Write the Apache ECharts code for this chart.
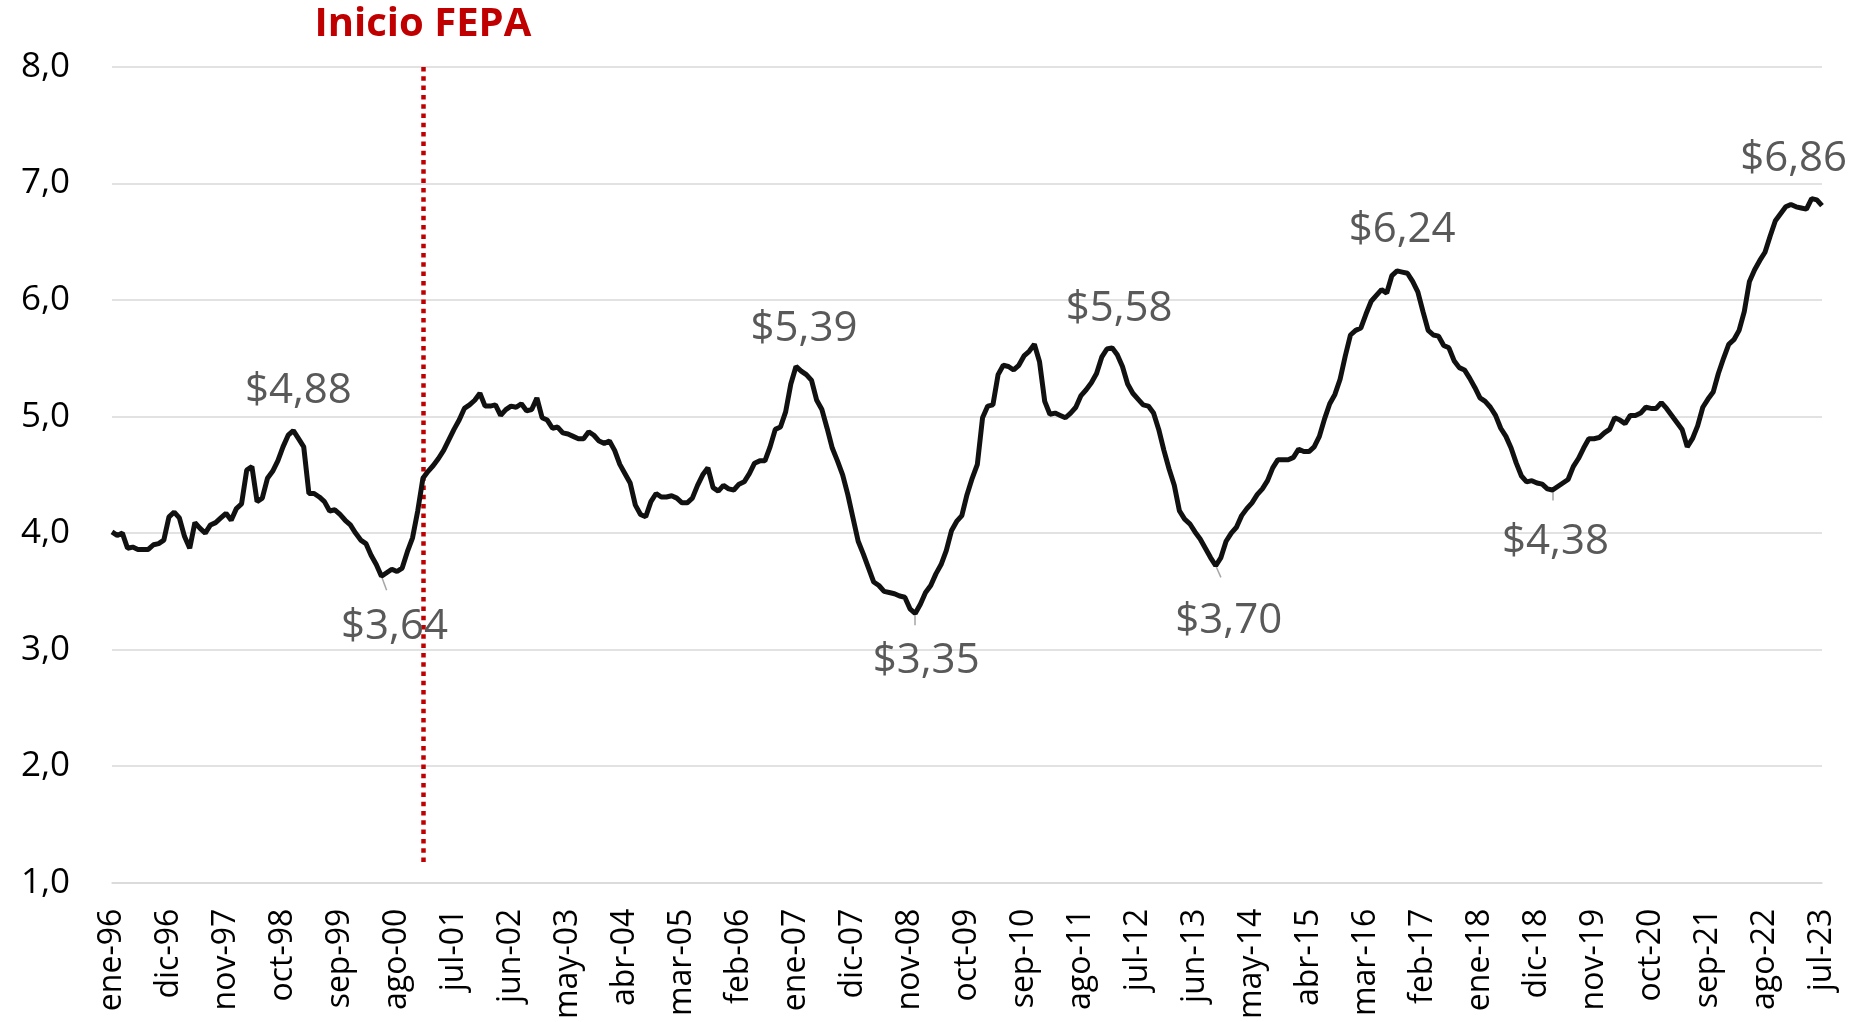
<!DOCTYPE html>
<html>
<head>
<meta charset="utf-8">
<script src="https://cdn.jsdelivr.net/npm/echarts@6/dist/echarts.min.js"></script>
<style>
	html, body { margin: 0; padding: 0; background: #fff; }
	#chart { width: 1875px; height: 1022px; }
</style>
</head>
<body>
<div id="chart"></div>
<script>
// meses y años del eje x (ene-96 .. jul-23)
const meses = ['ene', 'feb', 'mar', 'abr', 'may', 'jun', 'jul', 'ago', 'sep', 'oct', 'nov', 'dic'];
const anioInicio = 1996;
const totalMeses = 331;

// precio mensual, una fila por año
const precio = [
	4.01, 3.98, 4.00, 3.87, 3.88, 3.86, 3.86, 3.86, 3.90, 3.91, 3.94, 4.14, // 1996
	4.18, 4.13, 3.97, 3.87, 4.09, 4.04, 4.00, 4.07, 4.09, 4.13, 4.17, 4.11, // 1997
	4.21, 4.25, 4.54, 4.57, 4.27, 4.30, 4.47, 4.53, 4.62, 4.74, 4.84, 4.88, // 1998
	4.81, 4.74, 4.34, 4.34, 4.31, 4.27, 4.19, 4.20, 4.16, 4.11, 4.07, 4.00, // 1999
	3.94, 3.91, 3.81, 3.73, 3.63, 3.66, 3.69, 3.67, 3.70, 3.84, 3.96, 4.19, // 2000
	4.47, 4.53, 4.58, 4.64, 4.71, 4.80, 4.89, 4.97, 5.07, 5.10, 5.14, 5.20, // 2001
	5.09, 5.09, 5.10, 5.01, 5.06, 5.09, 5.08, 5.11, 5.05, 5.06, 5.16, 4.99, // 2002
	4.97, 4.90, 4.91, 4.86, 4.85, 4.83, 4.81, 4.81, 4.87, 4.84, 4.79, 4.77, // 2003
	4.79, 4.71, 4.59, 4.51, 4.43, 4.24, 4.16, 4.14, 4.27, 4.34, 4.31, 4.31, // 2004
	4.32, 4.30, 4.26, 4.26, 4.30, 4.41, 4.50, 4.56, 4.39, 4.36, 4.41, 4.38, // 2005
	4.37, 4.42, 4.44, 4.51, 4.60, 4.62, 4.62, 4.74, 4.89, 4.91, 5.04, 5.28, // 2006
	5.43, 5.39, 5.36, 5.31, 5.14, 5.06, 4.90, 4.73, 4.62, 4.50, 4.33, 4.13, // 2007
	3.93, 3.82, 3.70, 3.58, 3.55, 3.50, 3.49, 3.48, 3.46, 3.45, 3.35, 3.31, // 2008
	3.39, 3.49, 3.55, 3.65, 3.73, 3.85, 4.02, 4.10, 4.15, 4.33, 4.47, 4.59, // 2009
	4.99, 5.09, 5.10, 5.36, 5.44, 5.43, 5.40, 5.44, 5.52, 5.56, 5.62, 5.47, // 2010
	5.13, 5.02, 5.03, 5.01, 4.99, 5.03, 5.08, 5.18, 5.23, 5.29, 5.37, 5.51, // 2011
	5.58, 5.59, 5.53, 5.43, 5.28, 5.20, 5.15, 5.10, 5.09, 5.03, 4.89, 4.71, // 2012
	4.55, 4.41, 4.19, 4.12, 4.08, 4.01, 3.95, 3.87, 3.79, 3.72, 3.79, 3.93, // 2013
	4.00, 4.05, 4.15, 4.21, 4.26, 4.33, 4.38, 4.45, 4.56, 4.63, 4.63, 4.63, // 2014
	4.65, 4.72, 4.70, 4.70, 4.74, 4.83, 4.98, 5.11, 5.19, 5.32, 5.52, 5.70, // 2015
	5.74, 5.76, 5.88, 5.99, 6.04, 6.09, 6.06, 6.21, 6.25, 6.24, 6.23, 6.16, // 2016
	6.07, 5.90, 5.74, 5.70, 5.69, 5.61, 5.59, 5.48, 5.42, 5.40, 5.33, 5.25, // 2017
	5.16, 5.13, 5.08, 5.01, 4.90, 4.83, 4.73, 4.60, 4.49, 4.44, 4.45, 4.43, // 2018
	4.42, 4.38, 4.37, 4.40, 4.43, 4.46, 4.57, 4.64, 4.73, 4.81, 4.81, 4.82, // 2019
	4.86, 4.89, 4.99, 4.97, 4.94, 5.01, 5.01, 5.03, 5.08, 5.07, 5.07, 5.12, // 2020
	5.07, 5.01, 4.95, 4.89, 4.74, 4.81, 4.92, 5.08, 5.15, 5.21, 5.37, 5.50, // 2021
	5.62, 5.66, 5.74, 5.90, 6.16, 6.26, 6.34, 6.41, 6.55, 6.68, 6.74, 6.80, // 2022
	6.82, 6.80, 6.79, 6.78, 6.87, 6.86, 6.81                                // 2023
];

// rótulos de máximos y mínimos
const rotuloIdx = [35, 52, 132, 155, 193, 213, 248, 278, 328];
const rotuloTxt = ['$4,88', '$3,64', '$5,39', '$3,35', '$5,58', '$3,70', '$6,24', '$4,38', '$6,86'];

// inicio FEPA (ene-01)
const fepaIdx = 60;
const fepaTxt = 'Inicio FEPA';

const categorias = [];
for (let i = 0; i < totalMeses; i++) {
	const m = i % 12;
	const a = anioInicio + Math.floor(i / 12);
	categorias.push(meses[m] + '-' + String(a).slice(2));
}

// desplazamiento de cada rótulo respecto de su punto [dx, dy]
const desplaz = {
	35: [5, -40], 52: [13, 51], 132: [8, -37], 155: [11, 48], 193: [7, -39],
	213: [13, 55], 248: [5, -41], 278: [3, 52], 328: [-18, -40]
};
// guías cortas bajo los mínimos: [salto de mes, caída]
const guia = { 52: [1, 0.12], 155: [0, 0.10], 213: [1, 0.10], 278: [0, 0.09] };

const serieData = precio.map((v, i) => {
	const k = rotuloIdx.indexOf(i);
	if (k === -1) return v;
	return {
		value: v,
		symbol: 'circle',
		symbolSize: 2,
		label: {
			show: true,
			formatter: rotuloTxt[k],
			position: 'inside',
			offset: desplaz[i],
			color: '#595959',
			fontSize: 42,
			fontFamily: 'Open Sans',
			textBorderWidth: 0
		}
	};
});

const lineasGuia = Object.keys(guia).map(key => {
	const i = +key;
	return [
		{ coord: [i, precio[i]], lineStyle: { color: '#a6a6a6', width: 1.5, type: 'solid' }, label: { show: false } },
		{ coord: [i + guia[i][0], precio[i] - guia[i][1]] }
	];
});

const chart = echarts.init(document.getElementById('chart'));

const option = {
	animation: false,
	backgroundColor: '#fff',
	grid: { left: 112, right: 53, top: 67, bottom: 135 },
	xAxis: {
		type: 'category',
		data: categorias,
		boundaryGap: false,
		axisLine: { show: true, lineStyle: { color: '#d9d9d9', width: 1.5 } },
		axisTick: { show: false },
		axisLabel: {
			interval: 10,
			rotate: 90,
			margin: 26,
			fontSize: 32,
			fontFamily: 'Open Sans',
			color: '#000'
		}
	},
	yAxis: {
		type: 'value',
		min: 1,
		max: 8,
		interval: 1,
		axisLine: { show: false },
		axisTick: { show: false },
		axisLabel: {
			margin: 42,
			fontSize: 35,
			fontFamily: 'Open Sans',
			color: '#000',
			formatter: v => v.toFixed(1).replace('.', ',')
		},
		splitLine: { lineStyle: { color: '#d9d9d9', width: 1.5 } }
	},
	series: [
		{
			type: 'line',
			data: serieData,
			symbol: 'none',
			showSymbol: true,
			showAllSymbol: true,
			z: 3,
			lineStyle: { color: '#111', width: 5 },
			itemStyle: { color: '#111' },
			markLine: {
				silent: true,
				symbol: 'none',
				z: 2,
				lineStyle: { color: '#C00000', width: 4.5, type: [4.5, 4.8] },
				label: {
					show: true,
					position: 'start',
					distance: 22,
					formatter: fepaTxt,
					color: '#C00000',
					fontSize: 40,
					fontWeight: 'bold',
					fontFamily: 'Open Sans'
				},
				data: [
					[{ coord: [fepaIdx, 8] }, { coord: [fepaIdx, 1.17] }]
				].concat(lineasGuia)
			}
		}
	]
};

chart.setOption(option);
</script>
</body>
</html>
